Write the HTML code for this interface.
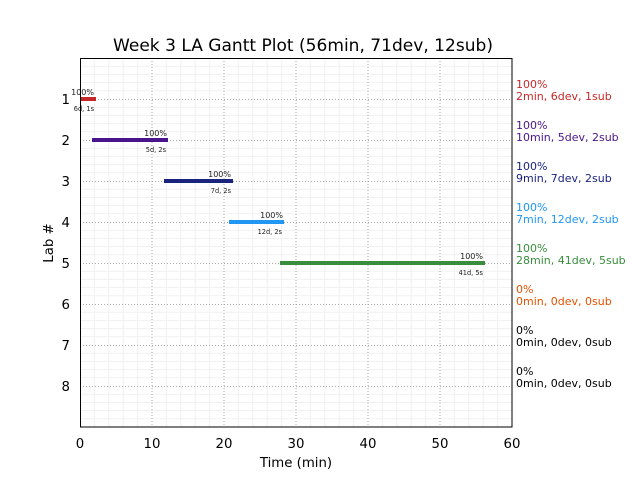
<!DOCTYPE html>
<html><head><meta charset="utf-8"><style>
html,body{margin:0;padding:0;background:#fff;}
svg{display:block;font-family:"DejaVu Sans","Liberation Sans",sans-serif;}
</style></head><body>
<svg width="640" height="480" viewBox="0 0 640 480" xmlns="http://www.w3.org/2000/svg">
<rect width="640" height="480" fill="#fff"/>
<!-- minor grid x -->
<g stroke="#f1f1f1" stroke-width="1">
<line x1="94.4" y1="58" x2="94.4" y2="427"/><line x1="108.8" y1="58" x2="108.8" y2="427"/><line x1="123.2" y1="58" x2="123.2" y2="427"/><line x1="137.6" y1="58" x2="137.6" y2="427"/>
<line x1="166.4" y1="58" x2="166.4" y2="427"/><line x1="180.8" y1="58" x2="180.8" y2="427"/><line x1="195.2" y1="58" x2="195.2" y2="427"/><line x1="209.6" y1="58" x2="209.6" y2="427"/>
<line x1="238.4" y1="58" x2="238.4" y2="427"/><line x1="252.8" y1="58" x2="252.8" y2="427"/><line x1="267.2" y1="58" x2="267.2" y2="427"/><line x1="281.6" y1="58" x2="281.6" y2="427"/>
<line x1="310.4" y1="58" x2="310.4" y2="427"/><line x1="324.8" y1="58" x2="324.8" y2="427"/><line x1="339.2" y1="58" x2="339.2" y2="427"/><line x1="353.6" y1="58" x2="353.6" y2="427"/>
<line x1="382.4" y1="58" x2="382.4" y2="427"/><line x1="396.8" y1="58" x2="396.8" y2="427"/><line x1="411.2" y1="58" x2="411.2" y2="427"/><line x1="425.6" y1="58" x2="425.6" y2="427"/>
<line x1="454.4" y1="58" x2="454.4" y2="427"/><line x1="468.8" y1="58" x2="468.8" y2="427"/><line x1="483.2" y1="58" x2="483.2" y2="427"/><line x1="497.6" y1="58" x2="497.6" y2="427"/>
</g>
<!-- minor grid y -->
<g stroke="#f1f1f1" stroke-width="1">
<line x1="80" y1="66.2" x2="512" y2="66.2"/><line x1="80" y1="74.4" x2="512" y2="74.4"/><line x1="80" y1="82.6" x2="512" y2="82.6"/><line x1="80" y1="90.8" x2="512" y2="90.8"/>
<line x1="80" y1="107.2" x2="512" y2="107.2"/><line x1="80" y1="115.4" x2="512" y2="115.4"/><line x1="80" y1="123.6" x2="512" y2="123.6"/><line x1="80" y1="131.8" x2="512" y2="131.8"/>
<line x1="80" y1="148.2" x2="512" y2="148.2"/><line x1="80" y1="156.4" x2="512" y2="156.4"/><line x1="80" y1="164.6" x2="512" y2="164.6"/><line x1="80" y1="172.8" x2="512" y2="172.8"/>
<line x1="80" y1="189.2" x2="512" y2="189.2"/><line x1="80" y1="197.4" x2="512" y2="197.4"/><line x1="80" y1="205.6" x2="512" y2="205.6"/><line x1="80" y1="213.8" x2="512" y2="213.8"/>
<line x1="80" y1="230.2" x2="512" y2="230.2"/><line x1="80" y1="238.4" x2="512" y2="238.4"/><line x1="80" y1="246.6" x2="512" y2="246.6"/><line x1="80" y1="254.8" x2="512" y2="254.8"/>
<line x1="80" y1="271.2" x2="512" y2="271.2"/><line x1="80" y1="279.4" x2="512" y2="279.4"/><line x1="80" y1="287.6" x2="512" y2="287.6"/><line x1="80" y1="295.8" x2="512" y2="295.8"/>
<line x1="80" y1="312.2" x2="512" y2="312.2"/><line x1="80" y1="320.4" x2="512" y2="320.4"/><line x1="80" y1="328.6" x2="512" y2="328.6"/><line x1="80" y1="336.8" x2="512" y2="336.8"/>
<line x1="80" y1="353.2" x2="512" y2="353.2"/><line x1="80" y1="361.4" x2="512" y2="361.4"/><line x1="80" y1="369.6" x2="512" y2="369.6"/><line x1="80" y1="377.8" x2="512" y2="377.8"/>
<line x1="80" y1="394.2" x2="512" y2="394.2"/><line x1="80" y1="402.4" x2="512" y2="402.4"/><line x1="80" y1="410.6" x2="512" y2="410.6"/><line x1="80" y1="418.8" x2="512" y2="418.8"/>
</g>
<!-- major grid -->
<g stroke="#a8a8a8" stroke-width="1" stroke-dasharray="1,2">
<line x1="152" y1="58" x2="152" y2="427"/><line x1="224" y1="58" x2="224" y2="427"/><line x1="296" y1="58" x2="296" y2="427"/><line x1="368" y1="58" x2="368" y2="427"/><line x1="440" y1="58" x2="440" y2="427"/>
<line x1="80" y1="99.5" x2="512" y2="99.5"/><line x1="80" y1="140.5" x2="512" y2="140.5"/><line x1="80" y1="181.5" x2="512" y2="181.5"/><line x1="80" y1="222.5" x2="512" y2="222.5"/>
<line x1="80" y1="263.5" x2="512" y2="263.5"/><line x1="80" y1="304.5" x2="512" y2="304.5"/><line x1="80" y1="345.5" x2="512" y2="345.5"/><line x1="80" y1="386.5" x2="512" y2="386.5"/>
</g>
<!-- bars -->
<rect x="80" y="97" width="16" height="4" fill="#c62828"/>
<rect x="92" y="138" width="76" height="4" fill="#4a148c"/>
<rect x="164" y="179" width="69" height="4" fill="#1a237e"/>
<rect x="229" y="220" width="55" height="4" fill="#2196f3"/>
<rect x="280" y="261" width="205" height="4" fill="#388e3c"/>
<!-- bar labels -->
<g font-size="8" fill="#222" text-anchor="end">
<text x="94" y="95">100%</text>
<text x="167" y="136">100%</text>
<text x="231" y="177">100%</text>
<text x="283" y="218">100%</text>
<text x="483" y="259">100%</text>
</g>
<g font-size="6.6" fill="#222" text-anchor="end">
<text x="94" y="111">6d, 1s</text>
<text x="166" y="152">5d, 2s</text>
<text x="231" y="193">7d, 2s</text>
<text x="282" y="234">12d, 2s</text>
<text x="483" y="275">41d, 5s</text>
</g>
<!-- frame -->
<rect x="80.5" y="58.5" width="431.5" height="368.5" fill="none" stroke="#000" stroke-width="1"/>
<!-- title -->
<text x="113" y="51" font-size="17" fill="#000" textLength="380" lengthAdjust="spacingAndGlyphs">Week 3 LA Gantt Plot (56min, 71dev, 12sub)</text>
<!-- x ticks -->
<g font-size="13.3" fill="#000" text-anchor="middle">
<text x="80" y="448">0</text><text x="152" y="448">10</text><text x="224" y="448">20</text><text x="296" y="448">30</text><text x="368" y="448">40</text><text x="440" y="448">50</text><text x="512" y="448">60</text>
<text x="296" y="467">Time (min)</text>
</g>
<!-- y ticks -->
<g font-size="13.3" fill="#000" text-anchor="end">
<text x="70" y="104">1</text><text x="70" y="145">2</text><text x="70" y="186">3</text><text x="70" y="227">4</text><text x="70" y="268">5</text><text x="70" y="309">6</text><text x="70" y="350">7</text><text x="70" y="391">8</text>
</g>
<text transform="translate(53,243) rotate(-90)" font-size="13.3" text-anchor="middle" fill="#000">Lab #</text>
<!-- right labels -->
<g font-size="11">
<text x="516" y="88" fill="#c62828">100%</text><text x="516" y="100" fill="#c62828">2min, 6dev, 1sub</text>
<text x="516" y="129" fill="#4a148c">100%</text><text x="516" y="141" fill="#4a148c">10min, 5dev, 2sub</text>
<text x="516" y="170" fill="#1a237e">100%</text><text x="516" y="182" fill="#1a237e">9min, 7dev, 2sub</text>
<text x="516" y="211" fill="#2196f3">100%</text><text x="516" y="223" fill="#2196f3">7min, 12dev, 2sub</text>
<text x="516" y="252" fill="#388e3c">100%</text><text x="516" y="264" fill="#388e3c">28min, 41dev, 5sub</text>
<text x="516" y="293" fill="#e65100">0%</text><text x="516" y="305" fill="#e65100">0min, 0dev, 0sub</text>
<text x="516" y="334" fill="#000">0%</text><text x="516" y="346" fill="#000">0min, 0dev, 0sub</text>
<text x="516" y="375" fill="#000">0%</text><text x="516" y="387" fill="#000">0min, 0dev, 0sub</text>
</g>
</svg>
</body></html>
